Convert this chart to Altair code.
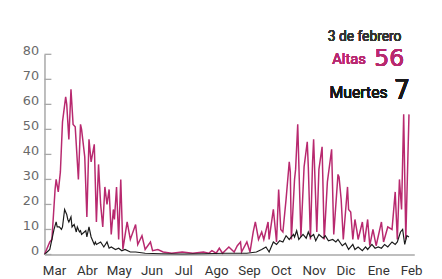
import altair as alt
import pandas as pd

# ---------------- data ----------------
START = "2020-02-21"  # day 0

altas_day = [0, 5, 7, 10, 11, 13, 15, 17, 20, 21, 23, 25, 27, 29, 32, 34, 35, 38, 40, 42,
             44, 47, 49, 51, 53, 55, 57, 59, 61, 63, 65, 66, 68, 70, 72, 74, 78, 81, 86, 88,
             92, 95, 100, 102, 107, 112, 120, 130, 140, 150, 155, 158, 162, 165, 168, 174, 179, 182, 185, 186,
             191, 194, 197, 199, 202, 205, 207, 211, 212, 216, 219, 221, 223, 225, 228, 231, 232, 233, 236, 237,
             239, 242, 245, 248, 249, 251, 253, 254, 257, 259, 262, 264, 267, 271, 273, 277, 278, 280, 282, 286,
             287, 289, 291, 293, 295, 296, 300, 302, 305, 307, 310, 313, 318, 320, 324, 328, 331, 333, 335, 337,
             339, 341, 344]
altas_val = [0, 5, 6, 26, 30, 25, 33, 53, 63, 60, 46, 66, 52, 51, 30, 52, 50, 39, 15, 46,
             37, 44, 13, 36, 20, 11, 27, 20, 26, 8, 18, 14, 27, 6, 30, 2, 13, 6, 12, 4,
             7.5, 2, 5, 1.5, 2, 1, 0.5, 1, 0.5, 1, 0.5, 1.5, 0.5, 2.5, 0.5, 3, 1, 3.5, 5, 1,
             5, 1, 9, 13, 6, 9, 6, 13, 6, 18, 5, 26, 10, 9, 22, 37, 33, 6, 30, 34,
             52, 7, 35, 45, 35, 6, 37, 46, 9, 34, 43, 6, 29, 42, 8, 32, 31, 22, 6, 27,
             18, 17, 6, 14, 9, 6, 13, 5, 14, 3.5, 10, 3.5, 13, 5, 11, 10, 25, 6, 30, 18,
             56, 6, 56]

muertes_day = [0, 5, 9, 11, 12, 14, 16, 17, 19, 21, 22, 23, 25, 26, 28, 30, 31, 33, 34, 35,
               39, 40, 42, 44, 45, 47, 48, 49, 53, 56, 59, 61, 63, 67, 70, 73, 76, 81, 86, 95,
               110, 130, 150, 170, 180, 191, 200, 205, 209, 212, 216, 219, 222, 225, 228, 231, 235, 236, 238, 240,
               244, 247, 249, 251, 254, 256, 259, 263, 265, 268, 272, 275, 277, 281, 284, 287, 291, 293, 296, 300,
               303, 305, 309, 312, 315, 318, 321, 324, 328, 331, 333, 336, 338, 340, 342, 344]
muertes_val = [0, 2, 10, 13, 11, 11, 10, 11, 18, 16, 14, 13, 15, 11, 12, 9, 11, 9, 9.5, 8,
               9.5, 7, 11, 7, 6, 4, 5, 4, 5, 3, 5, 2.5, 3, 2, 2.5, 1.5, 2, 1, 1, 0.5,
               0.3, 0.2, 0.3, 0.5, 0.5, 0.5, 1, 2, 3, 1, 5, 4, 5.5, 5, 7.5, 6, 8, 7, 9.5, 6,
               8, 6.5, 9, 7, 8, 5.5, 8, 6.5, 7.5, 5.5, 6, 5, 6, 3.5, 4.5, 2, 4, 2, 3, 1.5,
               3, 2, 4, 2.5, 3, 2.5, 4, 3, 5, 4, 5, 9, 10, 4, 7.5, 7]

month_names = ["Ene", "Feb", "Mar", "Abr", "May", "Jun", "Jul", "Ago", "Sep", "Oct", "Nov", "Dic"]
month_ticks = [(2020, 3), (2020, 4), (2020, 5), (2020, 6), (2020, 7), (2020, 8), (2020, 9),
               (2020, 10), (2020, 11), (2020, 12), (2021, 1), (2021, 2)]
y_ticks = [0, 10, 20, 30, 40, 50, 60, 70, 80]

fecha_text = "3 de febrero"
altas_text = "Altas"
altas_last = "56"
muertes_text = "Muertes"
muertes_last = "7"

# ---------------- styles ----------------
PINK = "#b8296f"
BLACK = "#1a1a1a"
AXIS_GRAY = "#a8a8a8"
TEXT_FONT = "Roboto"

start = pd.Timestamp(START)
altas = pd.DataFrame({"fecha": start + pd.to_timedelta(altas_day, unit="D"), "valor": altas_val})
muertes = pd.DataFrame({"fecha": start + pd.to_timedelta(muertes_day, unit="D"), "valor": muertes_val})
ticks_df = pd.DataFrame({"valor": y_ticks})

label_expr = "[" + ",".join("'%s'" % m for m in month_names) + "][month(datum.value)]"

x_scale = alt.Scale(domain=[alt.DateTime(year=2020, month=2, date=21),
                            alt.DateTime(year=2021, month=2, date=4)])
y_scale = alt.Scale(domain=[0, 80], nice=False)

x_axis = alt.Axis(
    values=[alt.DateTime(year=y, month=m, date=1) for y, m in month_ticks],
    labelExpr=label_expr,
    labelAlign="center",
    labelFont=TEXT_FONT,
    labelFontSize=13.5,
    labelColor="#333333",
    labelPadding=9,
    labelOverlap=False,
    labelFlush=False,
    ticks=False,
    tickSize=0,
    grid=False,
    domainColor=AXIS_GRAY,
    domainWidth=1.5,
)

y_axis = alt.Axis(
    values=y_ticks,
    labelFont="DejaVu Sans",
    labelFontSize=13,
    labelColor="#6a6a6a",
    labelBaseline="alphabetic",
    labelPadding=6,
    labelOverlap=False,
    labelFlush=False,
    ticks=False,
    tickSize=0,
    grid=False,
    domainColor=AXIS_GRAY,
    domainWidth=1.5,
)

x_enc = alt.X("fecha:T", title=None, scale=x_scale, axis=x_axis)
y_enc = alt.Y("valor:Q", title=None, scale=y_scale, axis=y_axis)

line_altas = alt.Chart(altas).mark_line(color=PINK, strokeWidth=1.5).encode(x=x_enc, y=y_enc)
line_muertes = alt.Chart(muertes).mark_line(color=BLACK, strokeWidth=1.2).encode(x=x_enc, y=y_enc)

tick_marks = alt.Chart(ticks_df).mark_rule(color=AXIS_GRAY, strokeWidth=1.3).encode(
    y=y_enc, x=alt.value(0), x2=alt.value(7)
)


def label(text, x, y, size, color, font):
    return alt.Chart(ticks_df).mark_text(
        align="right", baseline="alphabetic", font=font, fontSize=size, color=color
    ).encode(x=alt.value(x), y=alt.value(y), text=alt.value(text))


t1 = label(fecha_text, 362, -13, 14, "#333333", TEXT_FONT)
t2 = label(altas_text, 326, 10, 15, PINK, TEXT_FONT)
t3 = label(altas_last, 365, 12, 24, PINK, "DejaVu Sans")
t4 = label(muertes_text, 348, 44, 16, BLACK, TEXT_FONT)
t5 = label(muertes_last, 371, 45, 27, BLACK, "DejaVu Sans")

chart = alt.layer(line_altas, line_muertes, tick_marks, t1, t2, t3, t4, t5).properties(
    width=375,
    height=203,
    autosize="none",
    padding={"left": 37, "top": 45, "right": 20, "bottom": 30},
).configure_view(stroke=None)

chart.save("out.html", embed_options={"renderer": "svg", "actions": False})
